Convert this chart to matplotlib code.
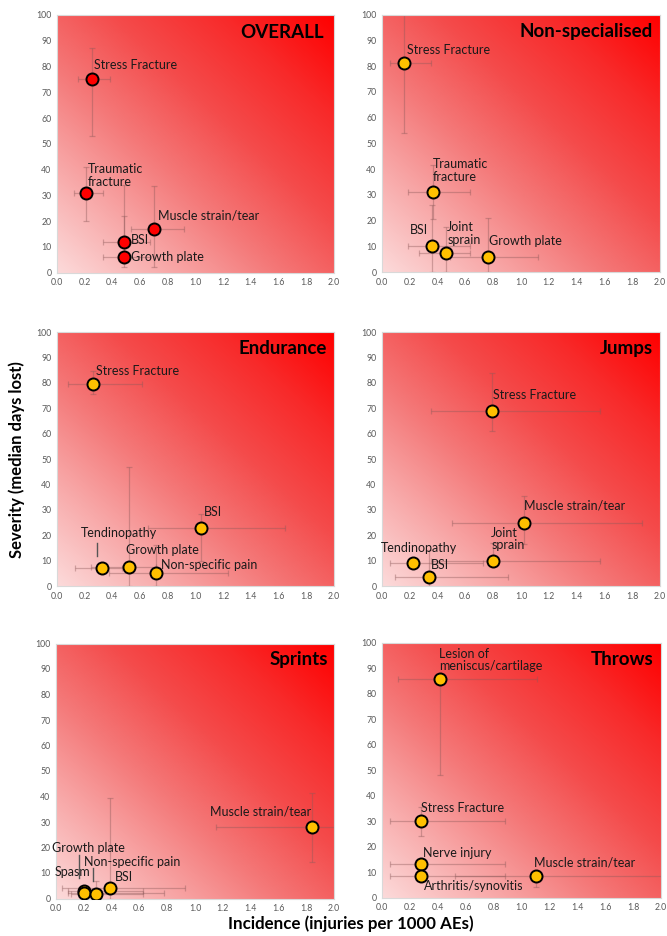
import numpy as np
import matplotlib
matplotlib.use("Agg")
import matplotlib.pyplot as plt
from matplotlib.colors import LinearSegmentedColormap

plt.rcParams['font.family'] = ['Lato', 'DejaVu Sans']

# ---------------- data ----------------
titles = ['OVERALL', 'Non-specialised', 'Endurance', 'Jumps', 'Sprints', 'Throws']

ov_names = ['Stress Fracture', 'Traumatic\nfracture', 'Muscle strain/tear', 'BSI', 'Growth plate']
ov_x = [0.25, 0.21, 0.70, 0.485, 0.485]
ov_y = [75, 31, 17, 12, 6]
ov_xlo = [0.15, 0.12, 0.535, 0.335, 0.335]
ov_xhi = [0.38, 0.33, 0.92, 0.67, 0.67]
ov_ylo = [53, 20, 2, 4, 2]
ov_yhi = [87, 41, 33.5, 34, 22]

ns_names = ['Stress Fracture', 'Traumatic\nfracture', 'BSI', 'Joint\nsprain', 'Growth plate']
ns_x = [0.16, 0.365, 0.36, 0.46, 0.76]
ns_y = [81, 31, 10, 7.5, 6]
ns_xlo = [0.055, 0.19, 0.19, 0.265, 0.49]
ns_xhi = [0.355, 0.63, 0.63, 0.63, 1.12]
ns_ylo = [54, 20.5, 0, 0, 0]
ns_yhi = [105, 41.5, 26, 17.5, 21]

en_names = ['Stress Fracture', 'BSI', 'Tendinopathy', 'Growth plate', 'Non-specific pain']
en_x = [0.26, 1.04, 0.325, 0.52, 0.715]
en_y = [79.5, 23, 7, 7.5, 5]
en_xlo = [0.08, 0.66, 0.13, 0.245, 0.375]
en_xhi = [0.615, 1.645, 0.47, 0.715, 1.235]
en_ylo = [75.5, 10, 6, 0, 0]
en_yhi = [84.5, 28.5, 8, 47, 16]

ju_names = ['Stress Fracture', 'Muscle strain/tear', 'Joint\nsprain', 'Tendinopathy', 'BSI']
ju_x = [0.79, 1.025, 0.795, 0.225, 0.338]
ju_y = [69, 25, 10, 9, 3.7]
ju_xlo = [0.35, 0.50, 0.35, 0.055, 0.09]
ju_xhi = [1.565, 1.87, 1.565, 0.73, 0.91]
ju_ylo = [61, 16.5, 8, 7, 0]
ju_yhi = [84, 35.5, 17, 10, 14]

sp_names = ['Muscle strain/tear', 'Growth plate', 'Spasm', 'Non-specific pain', 'BSI']
sp_x = [1.845, 0.20, 0.20, 0.29, 0.39]
sp_y = [28, 3, 2, 1.8, 4]
sp_xlo = [1.15, 0.085, 0.085, 0.11, 0.043]
sp_xhi = [2.3, 0.625, 0.78, 0.625, 0.925]
sp_ylo = [14.5, 0, 0, 0, 0]
sp_yhi = [41.5, 5, 3, 7, 39.5]

th_names = ['Lesion of\nmeniscus/cartilage', 'Stress Fracture', 'Nerve injury',
            'Arthritis/synovitis', 'Muscle strain/tear']
th_x = [0.415, 0.278, 0.278, 0.278, 1.105]
th_y = [86, 30, 13, 8.3, 8.3]
th_xlo = [0.115, 0.057, 0.057, 0.057, 0.52]
th_xhi = [1.11, 0.885, 0.885, 0.885, 2.4]
th_ylo = [48, 24.3, 12, 7, 4]
th_yhi = [86, 35.7, 14, 9, 11]

x_ticks = [0.0, 0.2, 0.4, 0.6, 0.8, 1.0, 1.2, 1.4, 1.6, 1.8, 2.0]
y_ticks = [0, 10, 20, 30, 40, 50, 60, 70, 80, 90, 100]

# ---------------- layout ----------------
W, H = 667, 936
fig = plt.figure(figsize=(W / 100, H / 100), dpi=100)


def rect(l, t, r, b):
    return [l / W, 1 - b / H, (r - l) / W, (b - t) / H]


rects = [rect(57, 15, 334, 272.5), rect(382, 14.5, 660, 272),
         rect(57, 332, 334, 586), rect(382, 332, 660, 586),
         rect(56, 643.5, 334, 898.5), rect(382, 643, 661, 897.5)]

panels = [
    (ov_names, ov_x, ov_y, ov_xlo, ov_xhi, ov_ylo, ov_yhi, '#FF0000',
     [(0.269, 80.6), (0.223, 37.8), (0.727, 22.3), (0.535, 12.7), (0.533, 6.2)]),
    (ns_names, ns_x, ns_y, ns_xlo, ns_xhi, ns_ylo, ns_yhi, '#FFC000',
     [(0.18, 86.2), (0.365, 39.5), (0.197, 16.2), (0.468, 14.9), (0.771, 12.0)]),
    (en_names, en_x, en_y, en_xlo, en_xhi, en_ylo, en_yhi, '#FFC000',
     [(0.284, 84.8), (1.064, 29.0), (0.173, 21.0), (0.498, 14.2), (0.753, 8.1)]),
    (ju_names, ju_x, ju_y, ju_xlo, ju_xhi, ju_ylo, ju_yhi, '#FFC000',
     [(0.795, 75.3), (1.025, 31.6), (0.785, 18.5), (-0.01, 14.8), (0.355, 8.3)]),
    (sp_names, sp_x, sp_y, sp_xlo, sp_xhi, sp_ylo, sp_yhi, '#FFC000',
     [(1.109, 34.3), (-0.03, 20.0), (-0.01, 10.2), (0.20, 14.5), (0.42, 8.6)]),
    (th_names, th_x, th_y, th_xlo, th_xhi, th_ylo, th_yhi, '#FFC000',
     [(0.41, 93.3), (0.282, 35.2), (0.291, 17.5), (0.303, 4.5), (1.093, 13.9)]),
]

title_pos = [(1.926, 93.3), (1.95, 93.4), (1.947, 93.6), (1.947, 93.7), (1.957, 93.7), (1.945, 93.5)]

# gradient background
cmap = LinearSegmentedColormap.from_list(
    'pinkred', [(0.0, '#FCDADA'), (0.2, '#F8AAAA'), (0.4, '#F47878'),
                (0.6, '#F44B4B'), (0.8, '#F82A2A'), (1.0, '#FF0000')])
gu, gv = np.meshgrid(np.linspace(0, 1, 300), np.linspace(0, 1, 300))
grad = (gu + gv) / 2.0

leaders = {2: [(0.291, 12.0, 16.8)],
           4: [(0.167, 8.1, 17.2), (0.266, 6.9, 11.9)]}

for i, (names, xs, ys, xlo, xhi, ylo, yhi, fc, lpos) in enumerate(panels):
    ax = fig.add_axes(rects[i])
    ax.set_xlim(0, 2)
    ax.set_ylim(0, 100)
    ax.imshow(grad, extent=[0, 2, 0, 100], origin='lower', aspect='auto',
              cmap=cmap, vmin=0, vmax=1, zorder=0, interpolation='bilinear')
    xs = np.array(xs); ys = np.array(ys)
    xe = [xs - np.array(xlo), np.array(xhi) - xs]
    ye = [ys - np.array(ylo), np.array(yhi) - ys]
    ax.errorbar(xs, ys, xerr=xe, yerr=ye, fmt='none', ecolor=(0.55, 0.35, 0.35, 0.4),
                elinewidth=0.9, capsize=2.2, capthick=0.9, zorder=2)
    ax.scatter(xs, ys, s=75, c=fc, edgecolors='black', linewidths=1.4, zorder=4)
    for name, (lx, ly) in zip(names, lpos):
        ax.text(lx, ly, name, ha='left', va='center', fontsize=9, color='#1a1a1a',
                linespacing=1.08, zorder=5, clip_on=False)
    tx, ty = title_pos[i]
    ax.text(tx, ty, titles[i], ha='right', va='center', fontsize=13.5, fontweight='bold',
            color='black', zorder=5)
    for (lx, y0, y1) in leaders.get(i, []):
        ax.plot([lx, lx], [y0, y1], color='#555555', lw=1.0, zorder=3)
    ax.set_xticks(x_ticks)
    ax.set_xticklabels([f'{v:.1f}' for v in x_ticks])
    ax.set_yticks(y_ticks)
    ax.set_yticklabels([str(v) for v in y_ticks])
    ax.tick_params(length=0, labelsize=6.3, labelcolor='#595959', pad=4)
    for s in ax.spines.values():
        s.set_color('#D9D9D9')
        s.set_linewidth(0.8)

fig.text(17 / W, 1 - 460 / H, 'Severity (median days lost)', rotation=90, ha='center', va='center',
         fontsize=12, fontweight='bold')
fig.text(351 / W, 1 - 924 / H, 'Incidence (injuries per 1000 AEs)', ha='center', va='center',
         fontsize=12.2, fontweight='bold')

fig.savefig('out.png', dpi=100)
